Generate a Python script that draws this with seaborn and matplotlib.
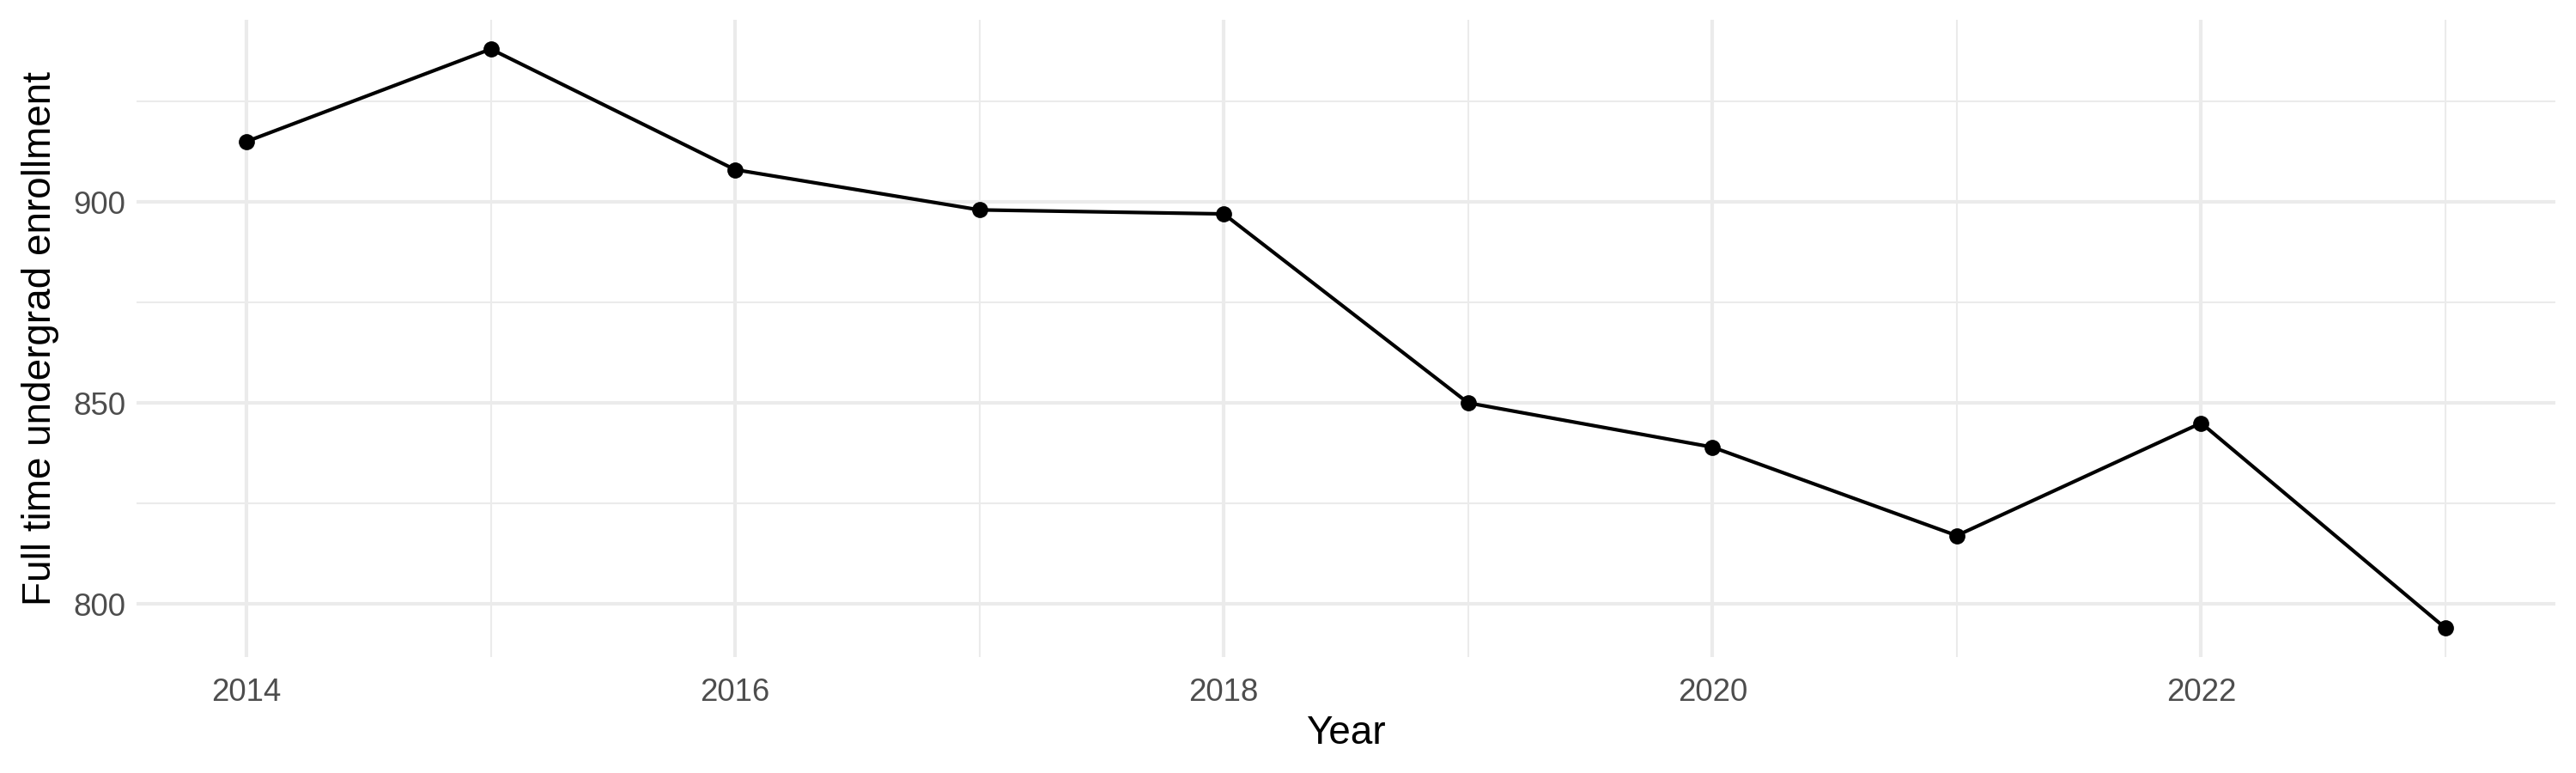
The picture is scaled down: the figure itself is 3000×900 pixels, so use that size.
import pandas as pd
import matplotlib.pyplot as plt
import seaborn as sns
from matplotlib.ticker import MultipleLocator

# enrollment values
years = [2014, 2015, 2016, 2017, 2018, 2019, 2020, 2021, 2022, 2023]
enrollment = [915, 938, 908, 898, 897, 850, 839, 817, 845, 794]

df = pd.DataFrame({'Year': years, 'enrollment': enrollment})

sns.set_theme(style='white')
plt.rcParams['font.family'] = ['Liberation Sans', 'DejaVu Sans']

fig, ax = plt.subplots(figsize=(10, 3), dpi=300)
fig.subplots_adjust(left=0.053, right=0.992, top=0.974, bottom=0.15)

sns.lineplot(data=df, x='Year', y='enrollment', color='black', linewidth=1.0,
             marker='o', markersize=4.5, markeredgewidth=0, ax=ax)

ax.set_xlim(2013.55, 2023.45)
ax.set_ylim(786.8, 945.2)
ax.xaxis.set_major_locator(MultipleLocator(2))
ax.xaxis.set_minor_locator(MultipleLocator(1))
ax.yaxis.set_major_locator(MultipleLocator(50))
ax.yaxis.set_minor_locator(MultipleLocator(25))
ax.grid(which='major', color='#EBEBEB', linewidth=1.0)
ax.grid(which='minor', color='#EBEBEB', linewidth=0.5)
ax.set_axisbelow(True)
for s in ax.spines.values():
    s.set_visible(False)
ax.tick_params(which='both', length=0, labelsize=8.8, labelcolor='#4D4D4D', pad=3)
ax.tick_params(axis='x', pad=5.8)

ax.set_xlabel('Year', fontsize=11, color='black', labelpad=2)
ax.set_ylabel('Full time undergrad enrollment', fontsize=11, color='black', labelpad=4)

fig.savefig('out.png', dpi=300)
